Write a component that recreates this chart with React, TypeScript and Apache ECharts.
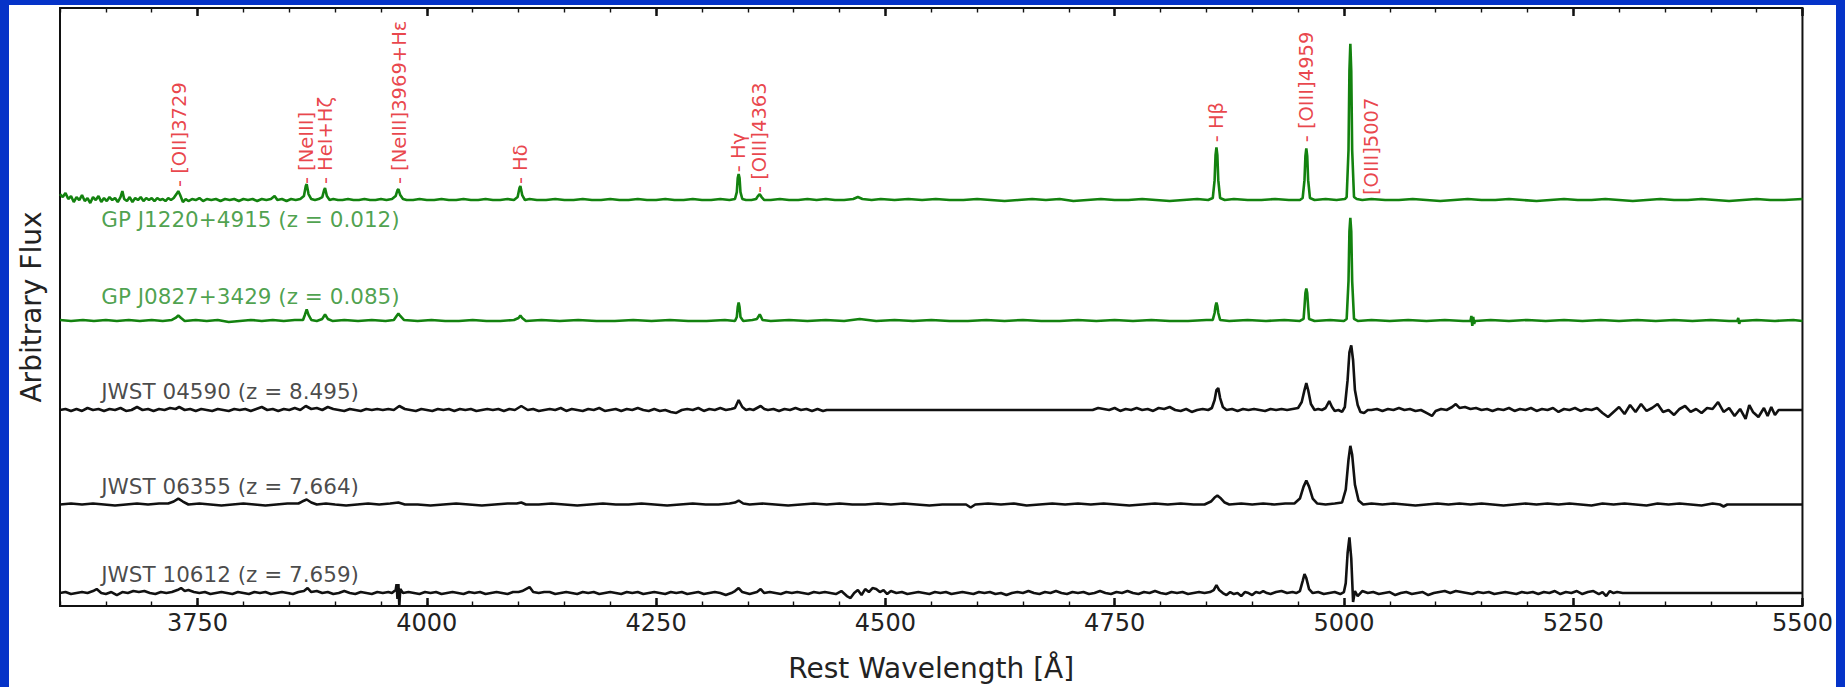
import React, { useEffect, useRef } from "react";
import * as echarts from "echarts";

// Wavelength range and tick positions (Å)
const WAVE_MIN = 3600;
const WAVE_MAX = 5500;
const majorTicks = [3750, 4000, 4250, 4500, 4750, 5000, 5250, 5500];

// Vertical extent of the stacked plot (arbitrary flux units)
const FLUX_MIN = 0;
const FLUX_MAX = 601;

// Spectrum identifiers, label texts and vertical offsets of each trace
const spectrumNames = [
  "GP J1220+4915 (z = 0.012)",
  "GP J0827+3429 (z = 0.085)",
  "JWST 04590 (z = 8.495)",
  "JWST 06355 (z = 7.664)",
  "JWST 10612 (z = 7.659)",
];
const spectrumOffsets = [408, 286.5, 197, 102, 13];
const nameLabelFlux = [388, 311, 216, 120, 32];
const nameLabelWave = 3645;

// [wavelength Å, flux relative to the trace's own baseline]
const gpJ1220: [number, number][] = [
  [3600, 6], [3603, 3], [3606, 7], [3609, 1], [3612, 4], [3615, -2], [3618, 3], [3621, 0], [3624, 5], [3627, -1],
  [3630, 2], [3633, -3], [3636, 3], [3639, 0], [3642, 4], [3645, -2], [3648, 2], [3651, -1], [3654, 3], [3657, 0],
  [3660, 2], [3663, -2], [3666, 3], [3668, 9], [3670, 1], [3673, -1], [3676, 3], [3679, -2], [3682, 2], [3685, 0],
  [3688, 3], [3691, -1], [3694, 2], [3697, 0], [3700, 2], [3703, -1], [3706, 2], [3709, 0], [3712, 1], [3715, -1],
  [3718, 2], [3721, 0], [3724, 2], [3727, 6], [3729, 9], [3731, 5], [3734, -2], [3737, 1], [3740, -1], [3744, 1],
  [3748, 0], [3752, 2], [3756, -1], [3760, 1], [3765, 0], [3770, 1], [3775, -1], [3780, 1], [3785, 0], [3790, 1],
  [3795, -1], [3800, 1], [3805, 0], [3810, 1], [3815, -1], [3820, 1], [3825, 0], [3830, 1], [3834, 4], [3837, 0],
  [3842, 1], [3847, -1], [3852, 1], [3857, 0], [3862, 1], [3866, 4], [3868, 14], [3869, 16], [3871, 6], [3874, 1],
  [3878, 0], [3882, 1], [3886, 3], [3888, 10], [3889, 12], [3891, 4], [3894, 0], [3898, 1], [3903, 0], [3908, 0],
  [3914, 1], [3920, 0], [3926, 0], [3932, 1], [3938, 0], [3944, 0], [3950, 1], [3956, 0], [3962, 1], [3966, 4],
  [3968, 10], [3969, 11], [3971, 5], [3974, 1], [3978, 0], [3985, 0], [3992, 1], [4000, 0], [4008, 0], [4016, 1],
  [4024, 0], [4032, 0], [4040, 1], [4048, 0], [4056, 0], [4064, 1], [4072, 0], [4080, 0], [4088, 1], [4095, 0],
  [4099, 3], [4101, 12], [4102, 14], [4104, 5], [4107, 0], [4112, 1], [4120, 0], [4130, 0], [4140, 1], [4150, 0],
  [4160, 0], [4170, 1], [4180, 0], [4190, 0], [4200, 1], [4210, 0], [4220, 0], [4230, 1], [4240, 0], [4250, 0],
  [4260, 1], [4270, 0], [4280, 0], [4290, 1], [4300, 0], [4310, 0], [4320, 1], [4330, 0], [4336, 1], [4338, 8],
  [4339, 22], [4340, 26], [4341, 22], [4342, 8], [4344, 1], [4348, 0], [4354, 0], [4359, 1], [4361, 4], [4363, 6],
  [4365, 3], [4368, 0], [4375, 0], [4385, 1], [4395, 0], [4405, 0], [4415, 1], [4425, 0], [4435, 1], [4445, 0],
  [4455, 0], [4465, 1], [4470, 3], [4475, 1], [4485, 0], [4495, 1], [4510, 0], [4525, 1], [4540, 0], [4555, 1],
  [4570, 0], [4585, 0], [4600, 1], [4615, 0], [4630, -1], [4645, 0], [4660, 1], [4675, 0], [4690, 1], [4705, -1],
  [4720, 0], [4735, 1], [4750, 0], [4765, 0], [4780, 1], [4795, 0], [4810, -1], [4825, 0], [4840, 1], [4852, 0],
  [4857, 2], [4859, 20], [4860, 45], [4861, 53], [4862, 45], [4863, 20], [4865, 2], [4870, 0], [4880, 1], [4895, 0],
  [4910, 0], [4925, 1], [4940, 0], [4952, 0], [4955, 2], [4957, 20], [4958, 44], [4959, 52], [4960, 44], [4961, 20],
  [4963, 2], [4968, 0], [4980, 1], [4992, 0], [5001, 1], [5003, 3], [5005, 50], [5006, 130], [5007, 157], [5008, 130],
  [5009, 50], [5011, 3], [5014, 1], [5020, 0], [5030, 1], [5045, 0], [5060, 0], [5075, 1], [5090, 0], [5105, -1],
  [5120, 0], [5135, 1], [5150, 0], [5165, 0], [5180, 1], [5195, 0], [5210, -1], [5225, 0], [5240, 1], [5255, 0],
  [5270, 0], [5285, 1], [5300, 0], [5315, -1], [5330, 0], [5345, 1], [5360, 0], [5375, 0], [5390, 1], [5405, 0],
  [5420, -1], [5435, 0], [5450, 1], [5465, 0], [5480, 0], [5500, 1],
];

const gpJ0827: [number, number][] = [
  [3600, 1], [3612, 0], [3625, 1], [3637, 0], [3650, 1], [3662, 0], [3675, 1], [3687, 0], [3700, 1], [3712, 0],
  [3722, 1], [3726, 3], [3729, 5.5], [3732, 3], [3736, 0], [3748, 1], [3760, 0], [3772, 1], [3784, -1], [3796, 0],
  [3808, 1], [3820, 0], [3832, 1], [3844, 0], [3856, 1], [3865, 1], [3867, 6], [3869, 11.5], [3871, 6], [3874, 1],
  [3880, 0], [3886, 2], [3889, 6.5], [3892, 2], [3897, 0], [3910, 1], [3925, 0], [3940, 1], [3955, 0], [3964, 1],
  [3967, 5], [3969, 7.5], [3971, 5], [3975, 1], [3990, 0], [4005, 1], [4020, 0], [4035, 0], [4050, 1], [4065, 0],
  [4080, 0], [4095, 1], [4100, 3], [4102, 5.5], [4104, 3], [4108, 0], [4125, 1], [4145, 0], [4165, 1], [4185, 0],
  [4205, 0], [4225, 1], [4245, 0], [4265, 1], [4285, 0], [4305, 0], [4325, 1], [4336, 0], [4338, 4], [4339, 14],
  [4340, 18.5], [4341, 14], [4342, 4], [4345, 0], [4355, 1], [4360, 2], [4362, 5], [4363, 6.5], [4364, 5], [4366, 1],
  [4375, 0], [4395, 1], [4415, 0], [4435, 1], [4455, 0], [4472, 2], [4490, 0], [4510, 1], [4530, 0], [4550, 1],
  [4570, 0], [4590, 0], [4610, 1], [4630, 0], [4650, 1], [4670, 0], [4690, 0], [4710, 1], [4730, 0], [4750, 1],
  [4770, 0], [4790, 1], [4810, 0], [4830, 0], [4850, 1], [4857, 1], [4859, 8], [4860, 15], [4861, 18.5], [4862, 15],
  [4863, 8], [4865, 1], [4875, 0], [4895, 1], [4915, 0], [4935, 1], [4952, 0], [4956, 2], [4957, 14], [4958, 28],
  [4959, 32.5], [4960, 28], [4961, 14], [4962, 2], [4968, 0], [4985, 1], [5000, 0], [5003, 2], [5005, 40], [5006, 90],
  [5007, 103.5], [5008, 90], [5009, 40], [5011, 2], [5015, 0], [5030, 1], [5050, 0], [5070, 1], [5090, 0], [5110, 1],
  [5130, 0], [5138, 0], [5139, 5], [5140, -5], [5141, 4], [5142, -3], [5143, 0], [5160, 1], [5180, 0], [5200, 1],
  [5220, 0], [5240, 1], [5260, 0], [5280, 1], [5300, 0], [5320, 1], [5340, 0], [5360, 1], [5380, 0], [5400, 1],
  [5420, 0], [5429, 0], [5430, 3], [5431, -3], [5432, 0], [5450, 1], [5470, 0], [5490, 1], [5500, 0],
];

const jwst04590: [number, number][] = [
  [3600, 0], [3606, 1], [3612, -1], [3618, 1], [3624, -1], [3630, 2], [3636, 0], [3642, 1], [3648, -1], [3654, 1],
  [3660, 0], [3666, 2], [3672, -1], [3678, 0], [3684, 3], [3690, 0], [3696, 1], [3702, -1], [3708, 1], [3714, 0],
  [3720, 2], [3726, 1], [3730, 3], [3736, 0], [3742, 1], [3748, -1], [3754, 1], [3760, 0], [3766, -1], [3772, 1],
  [3778, 0], [3784, -1], [3790, 1], [3796, 0], [3802, 1], [3808, -1], [3814, 1], [3820, 3], [3826, 0], [3832, 1],
  [3838, -1], [3844, 1], [3850, 0], [3856, 2], [3862, 0], [3868, 4], [3874, 1], [3880, 2], [3886, 0], [3892, 3],
  [3898, 1], [3904, 0], [3910, -1], [3916, 1], [3922, 0], [3928, -1], [3934, 1], [3940, 0], [3946, 1], [3952, 0],
  [3958, 1], [3964, 0], [3970, 4], [3976, 1], [3982, 0], [3988, -1], [3994, 1], [4000, 0], [4006, -1], [4012, 1],
  [4018, 0], [4024, 1], [4030, -1], [4036, 1], [4042, 0], [4048, 1], [4054, -1], [4060, 0], [4066, 1], [4072, 0],
  [4078, 1], [4084, -1], [4090, 1], [4096, 0], [4103, 4], [4110, 0], [4116, 1], [4122, -1], [4128, 0], [4134, 1],
  [4140, 0], [4146, 2], [4152, -1], [4158, 1], [4164, 0], [4170, -1], [4176, 1], [4182, 0], [4188, 2], [4194, -1],
  [4200, 0], [4206, 1], [4212, -1], [4218, 1], [4224, 0], [4230, 2], [4236, 0], [4242, -1], [4248, 1], [4254, -1],
  [4260, 0], [4266, -2], [4272, -3], [4278, 0], [4284, 1], [4290, 0], [4296, 2], [4302, -1], [4308, 1], [4314, 0],
  [4320, 2], [4326, 0], [4332, 1], [4336, 2], [4340, 10], [4344, 3], [4348, 0], [4352, 1], [4356, 0], [4360, 2],
  [4364, 4], [4368, 1], [4372, 0], [4378, 1], [4384, -1], [4390, 1], [4396, 0], [4402, 2], [4408, 0], [4414, 1],
  [4420, -1], [4426, 1], [4432, -1], [4436, 0], [4726, 0], [4732, 2], [4738, 1], [4744, 0], [4750, 2], [4756, -1],
  [4762, 1], [4768, 0], [4774, 2], [4780, 0], [4786, 1], [4792, -1], [4798, 2], [4804, 1], [4810, 3], [4816, 0],
  [4822, -1], [4828, 1], [4834, -2], [4840, 0], [4846, 1], [4852, 0], [4856, 2], [4859, 10], [4861, 20], [4863, 22],
  [4865, 12], [4868, 3], [4872, 0], [4878, 1], [4884, -1], [4890, 1], [4896, 0], [4902, 1], [4908, 0], [4914, -1],
  [4920, 1], [4926, 0], [4932, 1], [4938, 0], [4944, 1], [4950, 2], [4954, 8], [4957, 20], [4959, 27], [4961, 20],
  [4964, 6], [4968, 0], [4972, 1], [4976, 0], [4980, 2], [4984, 9], [4987, 3], [4990, -1], [4994, 0], [4998, -2],
  [5001, 3], [5004, 30], [5006, 58], [5008, 65], [5010, 50], [5012, 20], [5015, 5], [5018, -2], [5022, -3], [5026, 0],
  [5030, 0], [5036, 1], [5042, -1], [5048, 1], [5054, 0], [5060, 2], [5066, 0], [5072, 1], [5078, -1], [5084, 0],
  [5090, -3], [5096, -6], [5100, -1], [5106, 1], [5112, 0], [5118, 3], [5122, 6], [5126, 2], [5132, 3], [5138, 1],
  [5144, 2], [5150, 0], [5156, 1], [5162, -1], [5168, 1], [5174, 0], [5180, 2], [5186, -1], [5192, 1], [5198, 0],
  [5204, 2], [5210, -1], [5216, 1], [5222, 0], [5228, 2], [5234, -2], [5240, 1], [5246, 0], [5252, 2], [5258, -1],
  [5264, 1], [5270, 0], [5276, 2], [5282, -3], [5288, -7], [5294, -2], [5300, 3], [5306, -4], [5312, 5], [5318, -2],
  [5324, 6], [5330, -1], [5336, 2], [5342, 6], [5348, -2], [5354, 0], [5360, -5], [5366, 1], [5372, 4], [5378, -2],
  [5384, 1], [5390, -3], [5396, 2], [5402, 1], [5408, 8], [5414, -2], [5420, 2], [5426, -6], [5432, 1], [5438, -9],
  [5442, 5], [5446, -2], [5452, -7], [5458, 2], [5462, -6], [5466, 3], [5470, -5], [5474, 0], [5500, 0],
];

const jwst06355: [number, number][] = [
  [3600, 0], [3612, 1], [3624, 0], [3636, 1], [3648, 0], [3660, -1], [3672, 0], [3684, 1], [3696, 0], [3708, 1],
  [3718, 1], [3724, 3], [3729, 6], [3734, 3], [3740, 0], [3752, 1], [3764, 0], [3776, -1], [3788, 0], [3800, 1],
  [3812, 0], [3824, -1], [3836, 0], [3848, 1], [3860, 1], [3864, 3], [3869, 5], [3874, 2], [3880, 0], [3890, 1],
  [3900, 0], [3912, -1], [3924, 0], [3936, 1], [3948, 0], [3960, 1], [3969, 2], [3976, 0], [3990, 0], [4004, -1],
  [4018, 0], [4032, 1], [4046, 0], [4060, -1], [4074, 0], [4088, 1], [4098, 1], [4103, 2], [4108, 0], [4122, 0],
  [4136, 1], [4150, 0], [4164, -1], [4178, 0], [4192, 1], [4206, 0], [4220, 0], [4234, 1], [4248, 0], [4262, -1],
  [4276, 0], [4290, 1], [4304, 0], [4318, 0], [4330, 1], [4336, 2], [4340, 4], [4345, 1], [4352, 0], [4366, 1],
  [4380, 0], [4394, -1], [4408, 0], [4422, 1], [4436, 0], [4450, 1], [4464, 0], [4478, 0], [4492, 1], [4506, 0],
  [4520, 1], [4534, 0], [4548, -1], [4562, 0], [4576, 0], [4588, 0], [4593, -3], [4598, 0], [4612, 1], [4626, 0],
  [4640, 1], [4654, -1], [4668, 0], [4682, 1], [4696, 0], [4710, 1], [4724, 0], [4738, 1], [4752, 0], [4766, -1],
  [4780, 0], [4794, 1], [4808, 0], [4822, 1], [4836, 0], [4848, 0], [4855, 3], [4859, 7], [4862, 9], [4866, 6],
  [4870, 2], [4875, 0], [4888, 1], [4900, 0], [4912, 1], [4924, 0], [4936, 1], [4946, 1], [4952, 6], [4956, 18],
  [4959, 24], [4962, 18], [4966, 6], [4971, 1], [4980, 0], [4990, 1], [4998, 2], [5002, 15], [5005, 45], [5007, 59],
  [5009, 50], [5012, 20], [5016, 4], [5021, 0], [5030, 1], [5042, 0], [5054, 1], [5066, 0], [5078, -1], [5090, 0],
  [5102, 1], [5114, 0], [5126, 1], [5138, 0], [5150, 1], [5162, 0], [5174, -1], [5186, 0], [5198, 1], [5210, 0],
  [5222, 1], [5234, 0], [5246, 1], [5258, 0], [5270, -1], [5282, 1], [5294, 0], [5306, 1], [5318, 0], [5330, -1],
  [5342, 1], [5354, 0], [5366, 1], [5378, 0], [5390, -1], [5402, 1], [5410, 0], [5414, -2], [5418, 0], [5500, 0],
];

const jwst10612: [number, number][] = [
  [3600, 0], [3606, 1], [3612, -1], [3618, 0], [3624, 1], [3630, 0], [3636, 2], [3640, 4], [3645, 0], [3650, -1],
  [3656, 1], [3662, -2], [3668, 1], [3674, 0], [3680, 2], [3686, 1], [3692, 2], [3698, 0], [3704, -1], [3710, 1],
  [3716, 0], [3722, 1], [3728, 3], [3732, 5], [3736, 2], [3740, 3], [3746, 1], [3752, 0], [3758, 1], [3764, -1],
  [3770, 0], [3776, 1], [3782, 0], [3788, -1], [3794, 1], [3800, 0], [3806, -1], [3812, 1], [3818, 0], [3824, 1],
  [3830, -1], [3836, 0], [3842, 1], [3848, 0], [3854, -1], [3860, 1], [3866, 2], [3870, 5], [3874, 1], [3880, 2],
  [3886, 0], [3892, 1], [3898, -1], [3904, 0], [3910, 2], [3916, 0], [3922, -1], [3928, 1], [3934, 0], [3940, -1],
  [3946, 1], [3952, 0], [3958, 1], [3962, 0], [3966, 3], [3967, 9], [3968, -6], [3969, 9], [3970, -13], [3971, 4],
  [3974, 0], [3980, 1], [3986, 0], [3992, -1], [3998, 1], [4004, 0], [4010, 1], [4016, -1], [4022, 0], [4028, 1],
  [4034, 0], [4040, -1], [4046, 1], [4052, 0], [4058, 1], [4064, -1], [4070, 0], [4076, 1], [4082, 0], [4088, -1],
  [4094, 1], [4100, 1], [4104, 2], [4108, 4], [4112, 6], [4116, 1], [4122, 0], [4128, 1], [4134, 1], [4140, -1],
  [4146, 0], [4152, 1], [4158, 0], [4164, -1], [4170, 1], [4176, 0], [4182, 1], [4188, -1], [4194, 0], [4200, 1],
  [4206, 0], [4212, -1], [4218, 1], [4224, 0], [4230, 1], [4236, -1], [4242, 0], [4248, 1], [4254, 0], [4260, -1],
  [4266, 1], [4272, 0], [4278, 1], [4284, -1], [4290, 0], [4296, 1], [4302, -1], [4308, 0], [4314, 1], [4320, 0],
  [4326, -2], [4332, 0], [4336, 2], [4340, 5], [4344, 1], [4348, 0], [4352, -1], [4356, 0], [4360, 1], [4364, 4],
  [4368, 0], [4374, 1], [4380, 0], [4386, -1], [4392, 1], [4398, 0], [4404, 1], [4410, 0], [4416, -1], [4422, 1],
  [4428, 0], [4434, 1], [4440, 0], [4446, -1], [4452, 2], [4458, -3], [4462, -5], [4466, 0], [4470, 3], [4474, -2],
  [4478, 4], [4482, 1], [4486, 5], [4490, 4], [4494, 1], [4498, 3], [4502, -1], [4506, 2], [4512, 0], [4518, 1],
  [4524, -1], [4530, 0], [4536, 1], [4542, 0], [4548, -1], [4554, 1], [4560, 0], [4566, 1], [4572, -1], [4578, 0],
  [4584, 1], [4590, 0], [4596, -1], [4602, 1], [4608, 0], [4614, 1], [4620, -1], [4626, 0], [4632, -2], [4638, 0],
  [4644, 1], [4650, 0], [4656, 2], [4662, 0], [4668, -1], [4674, 1], [4680, 0], [4686, 2], [4692, 0], [4698, -1],
  [4704, 1], [4710, 0], [4716, 1], [4722, -1], [4728, 0], [4734, 2], [4740, 0], [4746, -1], [4752, 1], [4758, 0],
  [4764, 2], [4770, 0], [4776, -1], [4782, 1], [4788, 0], [4794, 2], [4800, 0], [4806, -1], [4812, 1], [4818, 0],
  [4824, 1], [4830, -1], [4836, 0], [4842, 1], [4848, 0], [4854, 1], [4858, 3], [4861, 8], [4864, 3], [4868, 0],
  [4872, -2], [4876, 1], [4880, -1], [4884, 0], [4888, -3], [4892, 1], [4896, 0], [4900, -2], [4904, 1], [4908, 0],
  [4912, 2], [4916, 0], [4920, -1], [4926, 1], [4932, 2], [4938, 0], [4944, 1], [4948, 0], [4952, 2], [4955, 12],
  [4957, 19], [4959, 15], [4962, 4], [4966, 0], [4972, 1], [4978, -1], [4984, 0], [4990, 1], [4996, -1], [5000, 1],
  [5002, 10], [5004, 40], [5006, 56], [5008, 35], [5010, -9], [5012, 2], [5015, -3], [5020, 2], [5026, 0], [5032, 1],
  [5038, -1], [5044, 0], [5050, 1], [5056, -2], [5062, 0], [5068, 1], [5074, -1], [5080, 0], [5086, 1], [5092, -2],
  [5098, 0], [5104, 1], [5110, 2], [5116, 0], [5122, 2], [5128, 1], [5134, 0], [5140, -1], [5146, 1], [5152, 0],
  [5158, 1], [5164, -1], [5170, 0], [5176, 1], [5182, 0], [5188, -1], [5194, 1], [5200, 0], [5206, 1], [5212, -1],
  [5218, 1], [5224, 0], [5230, 2], [5236, -1], [5242, 1], [5248, 0], [5254, 2], [5260, -1], [5266, 1], [5272, 2],
  [5278, -1], [5282, 1], [5286, -3], [5290, 2], [5294, 0], [5298, 1], [5304, 0], [5500, 0],
];

const spectra = [gpJ1220, gpJ0827, jwst04590, jwst06355, jwst10612];

// Emission-line annotations: text, wavelength where the label sits, flux of the label's start
const lineLabelTexts = [
  "- [OII]3729",
  "- [NeIII]",
  "- HeI+Hζ",
  "- [NeIII]3969+Hε",
  "- Hδ",
  "- Hγ",
  "- [OIII]4363",
  "- Hβ",
  "- [OIII]4959",
  "[OIII]5007",
];
const lineLabelWaves = [3730, 3869, 3890, 3970, 4102, 4340, 4363, 4861, 4959, 5030];
const lineLabelFlux = [421, 424, 424, 424, 424, 436, 415, 466, 466, 413];

// Colours
const GREEN = "#13820f";
const GREEN_TEXT = "#1f8a1f";
const BLACK = "#111111";
const RED = "#e3141c";
const FRAME_BLUE = "#0533c8";
const traceColors = [GREEN, GREEN, BLACK, BLACK, BLACK];
const nameColors = [GREEN_TEXT, GREEN_TEXT, "#1a1a1a", "#1a1a1a", "#1a1a1a"];

const FONT = "DejaVu Sans";

export default function App() {
  const ref = useRef<HTMLDivElement>(null);

  useEffect(() => {
    if (!ref.current) return;
    const chart = echarts.init(ref.current, undefined, { renderer: "svg" });

    const traceSeries = spectra.map((s, i) => ({
      type: "line",
      name: spectrumNames[i],
      data: s.map(([w, f]) => [w, f + spectrumOffsets[i]]),
      symbol: "none",
      showSymbol: false,
      silent: true,
      lineStyle: { color: traceColors[i], width: 2.6 },
      z: 3,
    }));

    const nameSeries = {
      type: "scatter",
      symbolSize: 0,
      silent: true,
      z: 5,
      data: spectrumNames.map((n, i) => ({
        value: [nameLabelWave, nameLabelFlux[i]],
        label: { formatter: n, color: nameColors[i] },
      })),
      label: {
        show: true,
        position: "right",
        distance: 0,
        fontFamily: FONT,
        fontSize: 21.5,
        verticalAlign: "middle",
      },
    };

    const lineLabelSeries = {
      type: "scatter",
      symbolSize: 0,
      silent: true,
      z: 5,
      data: lineLabelTexts.map((t, i) => ({
        value: [lineLabelWaves[i], lineLabelFlux[i]],
        label: { formatter: t },
      })),
      label: {
        show: true,
        position: "inside",
        rotate: 90,
        align: "left",
        verticalAlign: "middle",
        color: RED,
        fontFamily: FONT,
        fontSize: 19.5,
      },
    };

    const majorTick = {
      show: true,
      inside: true,
      length: 8,
      customValues: majorTicks,
      lineStyle: { color: BLACK, width: 2.5 },
    };
    const minorTick = {
      show: true,
      inside: true,
      length: 4.5,
      lineStyle: { color: BLACK, width: 1.4 },
    };
    const baseX = {
      type: "value",
      min: WAVE_MIN,
      max: WAVE_MAX,
      gridIndex: 0,
      axisLine: { show: false },
      splitLine: { show: false },
    };

    chart.setOption({
      animation: false,
      backgroundColor: "#ffffff",
      textStyle: { fontFamily: FONT },
      grid: {
        left: 50,
        right: 31,
        top: 3,
        bottom: 78,
        show: true,
        borderColor: BLACK,
        borderWidth: 2,
      },
      xAxis: [
        {
          ...baseX,
          position: "bottom",
          axisTick: majorTick,
          axisLabel: {
            show: true,
            customValues: majorTicks,
            formatter: (v: number) => String(v),
            fontSize: 24,
            color: "#222222",
            margin: 5,
            fontFamily: FONT,
          },
          name: "Rest Wavelength [Å]",
          nameLocation: "middle",
          nameGap: 48,
          nameTextStyle: { fontSize: 28, color: "#222222", fontFamily: FONT },
        },
        {
          ...baseX,
          position: "bottom",
          interval: 50,
          axisTick: minorTick,
          axisLabel: { show: false },
        },
        {
          ...baseX,
          position: "top",
          axisTick: majorTick,
          axisLabel: { show: false },
        },
        {
          ...baseX,
          position: "top",
          interval: 50,
          axisTick: minorTick,
          axisLabel: { show: false },
        },
      ],
      yAxis: {
        type: "value",
        min: FLUX_MIN,
        max: FLUX_MAX,
        axisLine: { show: false },
        axisTick: { show: false },
        axisLabel: { show: false },
        splitLine: { show: false },
        name: "Arbitrary Flux",
        nameLocation: "middle",
        nameGap: 15,
        nameTextStyle: { fontSize: 28, color: "#222222", fontFamily: FONT },
      },
      series: [...traceSeries, nameSeries, lineLabelSeries],
    });

    return () => chart.dispose();
  }, []);

  return (
    <div
      style={{
        position: "fixed",
        left: 0,
        top: 0,
        width: 1845,
        height: 687,
        background: FRAME_BLUE,
        overflow: "hidden",
      }}
    >
      <div
        ref={ref}
        style={{
          position: "absolute",
          left: 9,
          top: 5,
          width: 1827,
          height: 682,
          background: "#ffffff",
        }}
      />
    </div>
  );
}
